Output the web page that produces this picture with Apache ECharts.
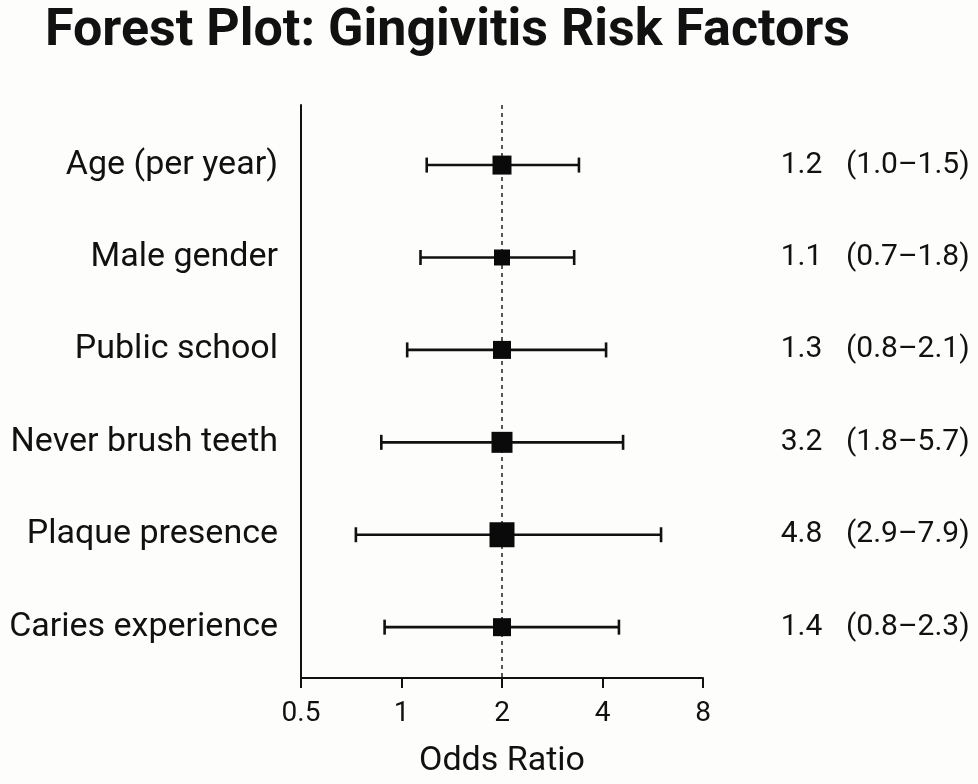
<!DOCTYPE html>
<html>
<head>
<meta charset="utf-8">
<script src="https://cdn.jsdelivr.net/npm/echarts@6/dist/echarts.min.js"></script>
<style>
html,body{margin:0;padding:0;background:#fdfdfc;}
#chart{width:978px;height:784px;}
</style>
</head>
<body>
<div id="chart"></div>
<script>
// ---- data ----
const categories = ['Age (per year)', 'Male gender', 'Public school', 'Never brush teeth', 'Plaque presence', 'Caries experience'];
// plotted point estimates (as drawn)
const plottedOR = [2.0, 2.0, 2.0, 2.0, 2.0, 2.0];
// plotted whisker ends (as drawn)
const plottedLow = [1.19, 1.14, 1.04, 0.87, 0.73, 0.89];
const plottedHigh = [3.40, 3.29, 4.10, 4.61, 5.99, 4.48];
// marker weights (square size)
const markerSize = [19, 16, 18, 21, 25, 18];
// printed labels on the right
const labelOR = [1.2, 1.1, 1.3, 3.2, 4.8, 1.4];
const labelLow = [1.0, 0.7, 0.8, 1.8, 2.9, 0.8];
const labelHigh = [1.5, 1.8, 2.1, 5.7, 7.9, 2.3];
const xTickValues = [0.5, 1, 2, 4, 8];
const xTickLabels = ['0.5', '1', '2', '4', '8'];
const refLine = 2;

const rowIdx = categories.map((_, i) => i);
const FONT = 'Roboto';

const chart = echarts.init(document.getElementById('chart'), null, {renderer: 'canvas'});

const yCommon = {
  type: 'value', min: -0.65, max: 5.55, inverse: true,
  splitLine: {show: false}, axisTick: {show: false}
};

chart.setOption({
  backgroundColor: '#fdfdfc',
  animation: false,
  title: {
    text: 'Forest Plot: Gingivitis Risk Factors',
    left: 40, top: 1,
    textStyle: {fontFamily: FONT, fontWeight: 'bold', fontSize: 52, color: '#111'}
  },
  grid: {left: 301, right: 275, top: 105, bottom: 106, containLabel: false, outerBoundsMode: 'none'},
  xAxis: {
    type: 'log', logBase: 2, min: 0.5, max: 8,
    name: 'Odds Ratio', nameLocation: 'middle', nameGap: 66,
    nameTextStyle: {fontFamily: FONT, fontSize: 34, color: '#111'},
    axisLine: {show: true, onZero: false, lineStyle: {color: '#111', width: 2}},
    axisTick: {show: true, inside: false, length: 10, lineStyle: {color: '#111', width: 2}},
    axisLabel: {
      fontFamily: FONT, fontSize: 28, color: '#111', margin: 22,
      formatter: v => { const i = xTickValues.findIndex(t => Math.abs(t - v) < 1e-9); return i >= 0 ? xTickLabels[i] : String(v); }
    },
    splitLine: {show: false}
  },
  yAxis: [
    Object.assign({}, yCommon, {
      position: 'left',
      axisLine: {show: true, onZero: false, lineStyle: {color: '#111', width: 2}},
      axisLabel: {
        customValues: rowIdx, margin: 23,
        fontFamily: FONT, fontSize: 34, color: '#111',
        formatter: v => categories[Math.round(v)]
      }
    }),
    Object.assign({}, yCommon, {
      position: 'right',
      axisLine: {show: false},
      axisLabel: {
        customValues: rowIdx, margin: 77, align: 'left',
        fontFamily: FONT, fontSize: 30, color: '#111',
        formatter: v => {
          const i = Math.round(v);
          return '{a|' + labelOR[i].toFixed(1) + '}{b|(' + labelLow[i].toFixed(1) + '\u2013' + labelHigh[i].toFixed(1) + ')}';
        },
        rich: {
          a: {fontFamily: FONT, fontSize: 30, color: '#111', width: 43, align: 'right'},
          b: {fontFamily: FONT, fontSize: 30, color: '#111', padding: [0, 0, 0, 23]}
        }
      }
    })
  ],
  series: [
    {
      type: 'custom',
      yAxisIndex: 0,
      data: rowIdx.map(i => [plottedLow[i], plottedHigh[i], i]),
      encode: {x: [0, 1], y: 2},
      renderItem: (params, api) => {
        const y = api.value(2);
        const p0 = api.coord([api.value(0), y]);
        const p1 = api.coord([api.value(1), y]);
        const h = 7.5;
        const st = {stroke: '#111', lineWidth: 2.6};
        return {
          type: 'group',
          children: [
            {type: 'line', shape: {x1: p0[0], y1: p0[1], x2: p1[0], y2: p1[1]}, style: st},
            {type: 'line', shape: {x1: p0[0], y1: p0[1] - h, x2: p0[0], y2: p0[1] + h}, style: st},
            {type: 'line', shape: {x1: p1[0], y1: p1[1] - h, x2: p1[0], y2: p1[1] + h}, style: st}
          ]
        };
      },
      z: 3
    },
    {
      type: 'scatter',
      yAxisIndex: 0,
      symbol: 'rect',
      data: rowIdx.map(i => ({value: [plottedOR[i], i], symbolSize: markerSize[i]})),
      itemStyle: {color: '#0a0a0a', opacity: 1},
      z: 5,
      markLine: {
        silent: true, symbol: 'none', label: {show: false},
        lineStyle: {color: '#555', width: 2, type: [4, 4]},
        data: [{xAxis: refLine}],
        z: 1
      }
    }
  ]
});
</script>
</body>
</html>
